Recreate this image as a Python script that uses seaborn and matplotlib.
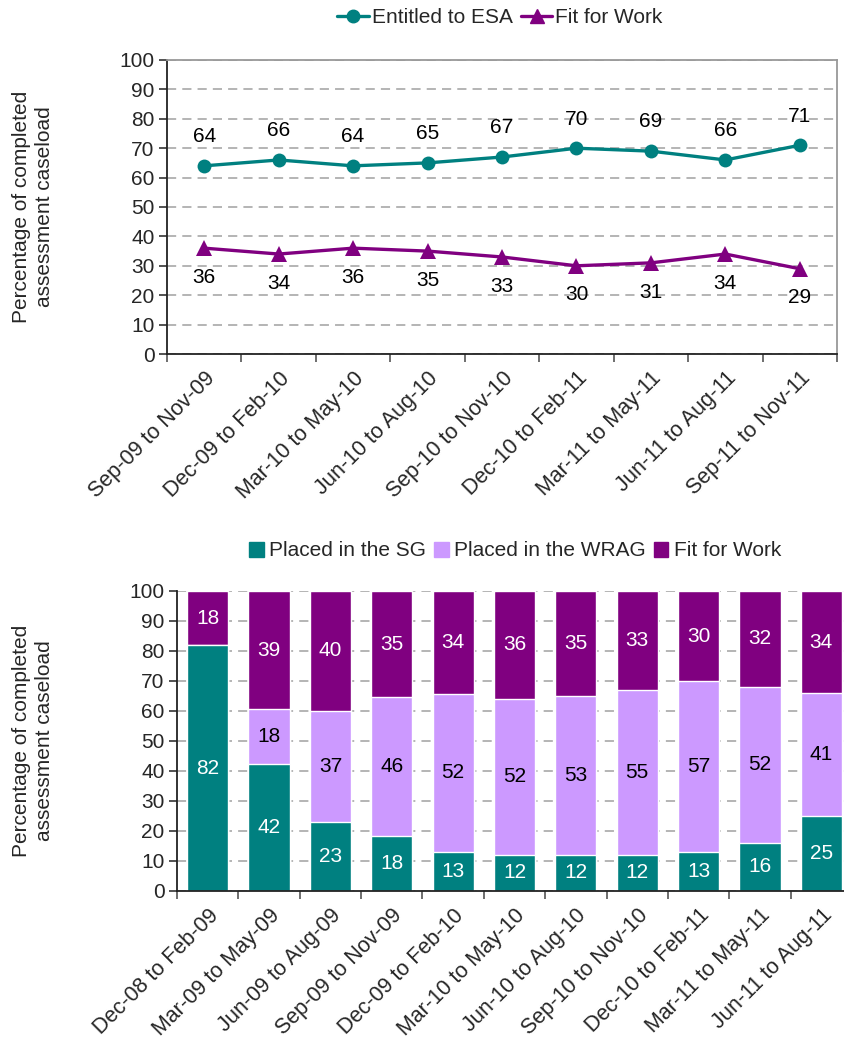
import matplotlib
matplotlib.use("Agg")
import matplotlib.pyplot as plt
import seaborn as sns
import numpy as np
import pandas as pd
from matplotlib.lines import Line2D
from matplotlib.patches import Patch

# ---- data ----
line_periods = ["Sep-09 to Nov-09", "Dec-09 to Feb-10", "Mar-10 to May-10",
                "Jun-10 to Aug-10", "Sep-10 to Nov-10", "Dec-10 to Feb-11",
                "Mar-11 to May-11", "Jun-11 to Aug-11", "Sep-11 to Nov-11"]
entitled_esa = [64, 66, 64, 65, 67, 70, 69, 66, 71]
fit_for_work_line = [36, 34, 36, 35, 33, 30, 31, 34, 29]

bar_periods = ["Dec-08 to Feb-09", "Mar-09 to May-09", "Jun-09 to Aug-09",
               "Sep-09 to Nov-09", "Dec-09 to Feb-10", "Mar-10 to May-10",
               "Jun-10 to Aug-10", "Sep-10 to Nov-10", "Dec-10 to Feb-11",
               "Mar-11 to May-11", "Jun-11 to Aug-11"]
placed_sg = [82, 42, 23, 18, 13, 12, 12, 12, 13, 16, 25]
placed_wrag = [0, 18, 37, 46, 52, 52, 53, 55, 57, 52, 41]
fit_for_work_bar = [18, 39, 40, 35, 34, 36, 35, 33, 30, 32, 34]

TEAL = "#008080"
PURPLE = "#800080"
LILAC = "#CC99FF"

sns.set_theme(style="white")
plt.rcParams['font.family'] = ['Liberation Sans', 'DejaVu Sans']
FS = 15

fig = plt.figure(figsize=(8.45, 10.46), dpi=100)

# ---------------- top line chart ----------------
ax1 = fig.add_axes([167/845, 1-354/1046, 670/845, 294/1046])
df_line = pd.DataFrame({"x": np.arange(len(line_periods)),
                        "esa": entitled_esa, "ffw": fit_for_work_line})
sns.lineplot(data=df_line, x="x", y="esa", ax=ax1, color=TEAL, lw=2.4,
             marker="o", markersize=10, markeredgewidth=0, zorder=3)
sns.lineplot(data=df_line, x="x", y="ffw", ax=ax1, color=PURPLE, lw=2.4,
             marker="^", markersize=11, markeredgewidth=0, zorder=3)
for x, v in zip(df_line["x"], entitled_esa):
    ax1.annotate(str(v), (x, v), xytext=(0, 21), textcoords="offset points",
                 ha="center", va="center", fontsize=FS, color="black")
for x, v in zip(df_line["x"], fit_for_work_line):
    ax1.annotate(str(v), (x, v), xytext=(0, -21), textcoords="offset points",
                 ha="center", va="center", fontsize=FS, color="black")
ax1.set_xlim(-0.5, len(line_periods) - 0.5)
ax1.set_ylim(0, 100)

# ---------------- bottom stacked bar chart ----------------
ax2 = fig.add_axes([177/845, 1-891/1046, 675/845, 300/1046])
tot = np.array(placed_sg) + np.array(placed_wrag) + np.array(fit_for_work_bar)
sg_h = np.array(placed_sg) / tot * 100
wr_h = np.array(placed_wrag) / tot * 100
ff_h = np.array(fit_for_work_bar) / tot * 100
df_bar = pd.DataFrame({"period": bar_periods, "sg": sg_h,
                       "sgwr": sg_h + wr_h, "all": sg_h + wr_h + ff_h})
bw = 0.67
sns.barplot(data=df_bar, x="period", y="all", ax=ax2, color=PURPLE,
            saturation=1, width=bw, zorder=2)
sns.barplot(data=df_bar, x="period", y="sgwr", ax=ax2, color=LILAC,
            saturation=1, width=bw, zorder=2)
sns.barplot(data=df_bar, x="period", y="sg", ax=ax2, color=TEAL,
            saturation=1, width=bw, zorder=2)
for i in range(len(bar_periods)):
    ax2.text(i, sg_h[i] / 2, str(placed_sg[i]), ha="center", va="center",
             color="white", fontsize=FS, zorder=4)
    if placed_wrag[i] > 0:
        ax2.text(i, sg_h[i] + wr_h[i] / 2, str(placed_wrag[i]), ha="center",
                 va="center", color="black", fontsize=FS, zorder=4)
    ax2.text(i, sg_h[i] + wr_h[i] + ff_h[i] / 2, str(fit_for_work_bar[i]),
             ha="center", va="center", color="white", fontsize=FS, zorder=4)
ax2.set_xlim(-0.5, len(bar_periods) - 0.5)
ax2.set_ylim(0, 100)

# ---------------- common styling ----------------
for ax, labels in ((ax1, line_periods), (ax2, bar_periods)):
    n = len(labels)
    ax.set_yticks(np.arange(0, 101, 10))
    ax.set_yticklabels([str(v) for v in range(0, 101, 10)], fontsize=FS)
    ax.set_xticks(np.arange(n))
    ax.set_xticklabels(labels, rotation=45, ha="right",
                       rotation_mode="anchor", fontsize=FS + 0.5)
    ax.set_xticks(np.arange(n + 1) - 0.5, minor=True)
    ax.tick_params(axis="x", which="major", length=0, pad=10)
    ax.tick_params(axis="x", which="minor", length=6, width=1.2,
                   color="#555555", direction="out", bottom=True)
    ax.tick_params(axis="y", which="major", length=6, width=1.2,
                   color="#333333", direction="out", left=True, pad=3)
    ax.yaxis.grid(True, linestyle=(0, (6, 4)), color="#A0A0A0", lw=1.1)
    ax.set_axisbelow(True)
    ax.set_xlabel("")
    ax.set_ylabel("Percentage of completed\nassessment caseload",
                  fontsize=FS, labelpad=14, linespacing=1.3)
    ax.spines["left"].set_color("#222222")
    ax.spines["bottom"].set_color("#222222")
    ax.spines["left"].set_linewidth(1.3)
    ax.spines["bottom"].set_linewidth(1.3)
    for s in ("top", "right"):
        ax.spines[s].set_color("#999999")
        ax.spines[s].set_linewidth(1.3)

ax2.spines["right"].set_visible(False)
ax2.spines["top"].set_visible(False)
ax1.yaxis.set_label_coords(-0.168, 0.5)
ax2.yaxis.set_label_coords(-0.182, 0.5)

# legends
h1 = [Line2D([0], [0], color=TEAL, lw=2.4, marker="o", markersize=9),
      Line2D([0], [0], color=PURPLE, lw=2.4, marker="^", markersize=10)]
fig.legend(h1, ["Entitled to ESA", "Fit for Work"], loc="center",
           bbox_to_anchor=(500/845, 1-18/1046), ncol=2, frameon=False,
           fontsize=FS, handlelength=1.5, handletextpad=0.15,
           columnspacing=0.4)
h2 = [Patch(color=TEAL), Patch(color=LILAC), Patch(color=PURPLE)]
fig.legend(h2, ["Placed in the SG", "Placed in the WRAG", "Fit for Work"],
           loc="center", bbox_to_anchor=(515/845, 1-551/1046), ncol=3,
           frameon=False, fontsize=FS, handlelength=0.7, handleheight=0.7,
           handletextpad=0.25, columnspacing=0.4)

fig.savefig("out.png", dpi=100)
